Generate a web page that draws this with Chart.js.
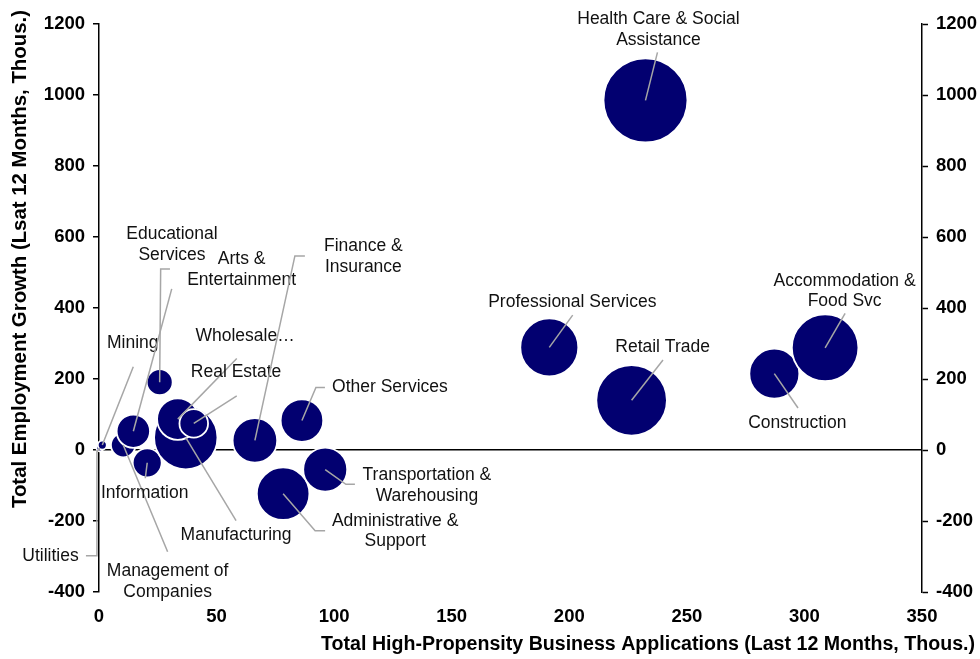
<!DOCTYPE html>
<html lang="en">
<head>
<meta charset="UTF-8">
<title>Employment Growth vs Business Applications</title>
<style>
  html, body { margin: 0; padding: 0; background: #fff; overflow: hidden; }
  .chart-container { position: relative; width: 980px; height: 659px; }
</style>
</head>
<body>
<div class="chart-container"><canvas id="bubbleChart"></canvas></div>
<script src="https://cdn.jsdelivr.net/npm/chart.js@4.4.1/dist/chart.umd.min.js"></script>
<script>
// Industries, listed in draw order so the overlapping bubbles stack like the source
const industries = [
  'Utilities', 'Mining', 'Management of Companies', 'Information',
  'Arts & Entertainment', 'Educational Services', 'Manufacturing',
  'Wholesale Trade', 'Real Estate', 'Finance & Insurance', 'Other Services',
  'Administrative & Support', 'Transportation & Warehousing',
  'Professional Services', 'Retail Trade', 'Construction',
  'Accommodation & Food Svc', 'Health Care & Social Assistance'
];
// High-propensity business applications, last 12 months (thous.)
const businessApps = [0.4, 1.4, 10.3, 20.5, 14.6, 25.8, 36.9, 33.5, 40.3, 66.3, 86.3, 78.3, 96.2, 191.5, 226.5, 287.2, 308.8, 232.4];
// Employment growth, last 12 months (thous.)
const employmentGrowth = [6, 14, 14, -36, 53, 191, 35, 87, 75, 27, 83, -123, -55, 289, 140, 215, 288, 985];
// Bubble radius
const bubbleSize = [3.5, 4.5, 12.3, 14.5, 16.7, 13, 31.7, 20.7, 14.3, 22.3, 21.3, 26.3, 22, 29, 35.3, 25, 33.3, 42];

const xTickValues = [0, 50, 100, 150, 200, 250, 300, 350];
const yTickValues = [-400, -200, 0, 200, 400, 600, 800, 1000, 1200];

const xTitle = 'Total High-Propensity Business Applications (Last 12 Months, Thous.)';
const yTitle = 'Total Employment Growth (Lsat 12 Months, Thous.)';

// Label text, text centre and leader bends, in pixels from the bubble centre
const labelLayout = {
  'Utilities': { text: ['Utilities'], at: [-49.5, 108], leader: [[-3, 4], [-3, 108], [-14, 108]] },
  'Mining': { text: ['Mining'], at: [30.5, -101.7], leader: [[31, -78.3]] },
  'Management of Companies': { text: ['Management of', 'Companies'], at: [44.4, 136.7], leader: [[44.4, 106.7]] },
  'Information': { text: ['Information'], at: [-2.5, 30.5], leader: [[-1.9, 15.5]] },
  'Arts & Entertainment': { text: ['Arts &', 'Entertainment'], at: [108.3, -161.6], leader: [[38.4, -142.3]] },
  'Educational Services': { text: ['Educational', 'Services'], at: [12.3, -137.7], leader: [[1, -113.2], [10.3, -113.2]] },
  'Manufacturing': { text: ['Manufacturing'], at: [50.3, 97.3], leader: [[50.3, 83]] },
  'Wholesale Trade': { text: ['Wholesale…'], at: [67.3, -83], leader: [[59, -60.7]] },
  'Real Estate': { text: ['Real Estate'], at: [42.3, -51.3], leader: [[43, -27.6]] },
  'Finance & Insurance': { text: ['Finance &', 'Insurance'], at: [108.5, -183.5], leader: [[40, -184.5], [50, -184.5]] },
  'Other Services': { text: ['Other Services'], at: [88, -33], leader: [[14, -33], [23, -33]] },
  'Administrative & Support': { text: ['Administrative &', 'Support'], at: [112, 37.3], leader: [[32, 37], [42, 37]] },
  'Transportation & Warehousing': { text: ['Transportation &', 'Warehousing'], at: [101.7, 16], leader: [[20.7, 14.8], [29.7, 14.8]] },
  'Professional Services': { text: ['Professional Services'], at: [23, -45], leader: [[23.4, -32.3]] },
  'Retail Trade': { text: ['Retail Trade'], at: [31, -53], leader: [[31.4, -40.3]] },
  'Construction': { text: ['Construction'], at: [23, 49], leader: [[23.7, 34.3]] },
  'Accommodation & Food Svc': { text: ['Accommodation &', 'Food Svc'], at: [19.5, -56.8], leader: [[20, -34.5]] },
  'Health Care & Social Assistance': { text: ['Health Care & Social', 'Assistance'], at: [13, -70.5], leader: [[12, -48]] }
};

const FONT = '"Liberation Sans", Arial, sans-serif';

const bubbleLabels = {
  id: 'bubbleLabels',
  afterDatasetsDraw(chart) {
    const ctx = chart.ctx;
    const meta = chart.getDatasetMeta(0);
    ctx.save();
    meta.data.forEach((pt, i) => {
      const lay = labelLayout[industries[i]];
      if (!lay) return;
      // leader line
      ctx.beginPath();
      ctx.moveTo(pt.x, pt.y);
      lay.leader.forEach(p => ctx.lineTo(pt.x + p[0], pt.y + p[1]));
      ctx.strokeStyle = '#a6a6a6';
      ctx.lineWidth = 1.5;
      ctx.stroke();
      // text
      ctx.fillStyle = '#111';
      ctx.font = '17.5px ' + FONT;
      ctx.textAlign = 'center';
      ctx.textBaseline = 'middle';
      const lh = 20.5;
      const y0 = pt.y + lay.at[1] - (lay.text.length - 1) * lh / 2;
      lay.text.forEach((t, k) => ctx.fillText(t, pt.x + lay.at[0], y0 + k * lh));
    });
    ctx.restore();
  }
};

// Axis titles sit off-centre in the source, so draw them by hand
const axisTitles = {
  id: 'axisTitles',
  afterDraw(chart) {
    const ctx = chart.ctx;
    const area = chart.chartArea;
    ctx.save();
    ctx.fillStyle = '#000';
    ctx.font = 'bold 19.6px ' + FONT;
    ctx.textAlign = 'right';
    ctx.textBaseline = 'middle';
    ctx.fillText(xTitle, chart.width - 5, chart.height - 14);
    ctx.translate(20, (area.top + area.bottom) / 2 - 49);
    ctx.rotate(-Math.PI / 2);
    ctx.textAlign = 'center';
    ctx.font = 'bold 20.4px ' + FONT;
    ctx.fillText(yTitle, 0, 0);
    ctx.restore();
  }
};

const points = industries.map((name, i) => ({ x: businessApps[i], y: employmentGrowth[i], r: bubbleSize[i] }));

const tickFont = { family: FONT, size: 18.5, weight: 'bold' };
const plainTick = v => String(v);

new Chart(document.getElementById('bubbleChart'), {
  type: 'bubble',
  data: {
    datasets: [{
      label: 'Industries',
      data: points,
      backgroundColor: '#020070',
      borderColor: '#ffffff',
      borderWidth: 1.8,
      hoverRadius: 0,
      clip: false
    }]
  },
  options: {
    responsive: true,
    maintainAspectRatio: false,
    animation: false,
    layout: { autoPadding: false, padding: { top: 24, right: 0, bottom: 0, left: 0 } },
    plugins: { legend: { display: false }, tooltip: { enabled: false } },
    scales: {
      x: {
        type: 'linear', min: 0, max: 350,
        afterBuildTicks: s => { s.ticks = xTickValues.map(v => ({ value: v })); },
        afterFit: s => { s.height = 67; },
        grid: { display: false, drawTicks: false },
        border: { display: false },
        ticks: { color: '#000', font: tickFont, padding: 14, maxRotation: 0, callback: plainTick }
      },
      y: {
        type: 'linear', position: 'left', min: -400, max: 1200,
        afterBuildTicks: s => { s.ticks = yTickValues.map(v => ({ value: v })); },
        afterFit: s => { s.width = 99; },
        grid: {
          color: c => (c.tick && c.tick.value === 0) ? '#000' : 'rgba(0,0,0,0)',
          lineWidth: 1.5, tickColor: '#000', tickWidth: 1.5, tickLength: 6
        },
        border: { color: '#000', width: 1.5 },
        ticks: { color: '#000', font: tickFont, padding: 8, callback: plainTick }
      },
      y2: {
        type: 'linear', position: 'right', min: -400, max: 1200,
        afterBuildTicks: s => { s.ticks = yTickValues.map(v => ({ value: v })); },
        afterFit: s => { s.width = 58; },
        grid: { drawOnChartArea: false, color: '#000', tickColor: '#000', tickWidth: 1.5, tickLength: 6 },
        border: { color: '#000', width: 1.5 },
        ticks: { color: '#000', font: tickFont, padding: 8, callback: plainTick }
      }
    }
  },
  plugins: [bubbleLabels, axisTitles]
});
</script>
</body>
</html>
